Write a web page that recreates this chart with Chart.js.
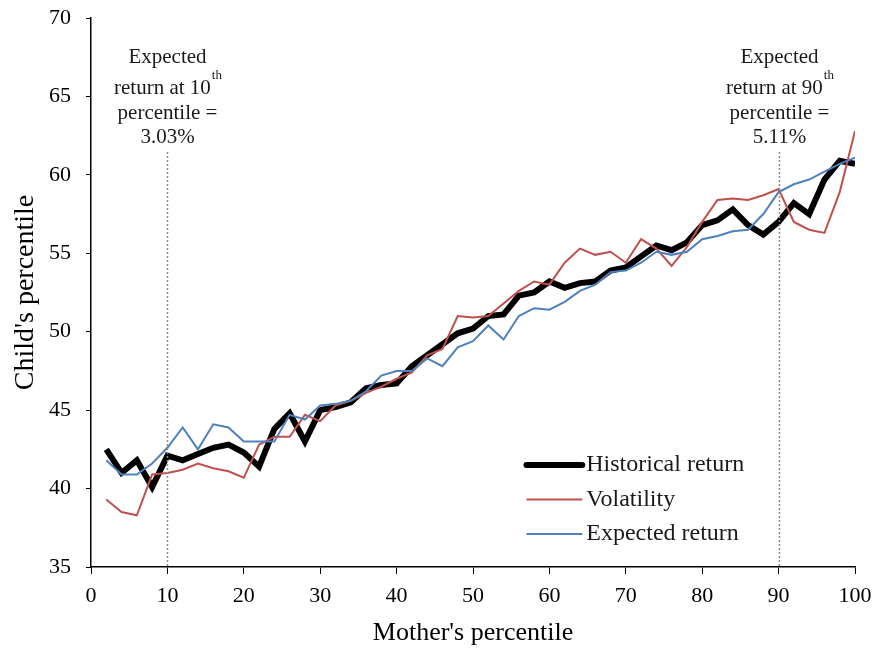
<!DOCTYPE html>
<html lang="en">
<head>
    <meta charset="UTF-8">
    <title>Child's percentile vs Mother's percentile</title>
    <style>
        * {
            margin: 0;
            padding: 0;
            box-sizing: border-box;
        }

        body {
            background: #ffffff;
            width: 876px;
            height: 649px;
            overflow: hidden;
        }

        .chart-box {
            position: relative;
            width: 876px;
            height: 649px;
        }
    </style>
</head>
<body>
    <div class="chart-box">
        <canvas id="pctChart" width="876" height="649"></canvas>
    </div>

    <script src="https://cdn.jsdelivr.net/npm/chart.js"></script>
    <script>
        // mother's percentile (x) and the three series (child's percentile)
        const motherPct = [2, 4, 6, 8, 10, 12, 14, 16, 18, 20, 22, 24, 26, 28, 30, 32, 34, 36, 38, 40,
            42, 44, 46, 48, 50, 52, 54, 56, 58, 60, 62, 64, 66, 68, 70, 72, 74, 76, 78, 80,
            82, 84, 86, 88, 90, 92, 94, 96, 98, 100];

        const historical = [42.5, 41.0, 41.8, 40.1, 42.1, 41.8, 42.2, 42.6, 42.8, 42.3,
            41.4, 43.8, 44.8, 43.0, 45.0, 45.2, 45.5, 46.4, 46.6, 46.7,
            47.8, 48.5, 49.2, 49.9, 50.2, 51.0, 51.1, 52.3, 52.5, 53.2,
            52.8, 53.1, 53.2, 53.9, 54.1, 54.8, 55.5, 55.2, 55.7, 56.8,
            57.1, 57.8, 56.8, 56.2, 57.0, 58.2, 57.5, 59.7, 60.9, 60.7];

        const volatility = [39.3, 38.5, 38.3, 40.9, 41.0, 41.2, 41.6, 41.3, 41.1, 40.7,
            42.8, 43.3, 43.3, 44.7, 44.3, 45.3, 45.6, 46.1, 46.5, 47.0,
            47.4, 48.5, 48.9, 51.0, 50.9, 51.0, 51.8, 52.6, 53.2, 53.0,
            54.4, 55.3, 54.9, 55.1, 54.4, 55.9, 55.3, 54.2, 55.4, 57.0,
            58.4, 58.5, 58.4, 58.7, 59.1, 57.0, 56.5, 56.3, 58.9, 62.8];

        const expectedRet = [41.8, 40.9, 40.9, 41.6, 42.6, 43.9, 42.5, 44.1, 43.9, 43.0,
            43.0, 43.0, 44.7, 44.4, 45.3, 45.4, 45.6, 46.2, 47.2, 47.5,
            47.5, 48.3, 47.8, 49.0, 49.4, 50.4, 49.5, 51.0, 51.5, 51.4,
            51.9, 52.6, 53.0, 53.8, 53.9, 54.4, 55.1, 54.9, 55.1, 55.9,
            56.1, 56.4, 56.5, 57.5, 58.9, 59.4, 59.7, 60.2, 60.7, 61.1];

        // reference lines and their notes
        const markerX = [10, 90];
        const markerNotes = [
            ['Expected', 'return at 10|th', 'percentile =', '3.03%'],
            ['Expected', 'return at 90|th', 'percentile =', '5.11%']
        ];

        const serif = "'Liberation Serif', 'Times New Roman', serif";

        function toPoints(ys) {
            return motherPct.map((x, i) => ({ x: x, y: ys[i] }));
        }

        // dotted vertical lines + text notes
        const markerPlugin = {
            id: 'markers',
            afterDatasetsDraw(chart) {
                const ctx = chart.ctx;
                const xs = chart.scales.x;
                const area = chart.chartArea;
                const lineOffsets = [39, 70, 95, 119];
                ctx.save();
                markerX.forEach((mx, k) => {
                    const px = Math.round(xs.getPixelForValue(mx)) + 0.5;
                    ctx.strokeStyle = '#8c8c8c';
                    ctx.lineWidth = 1.5;
                    ctx.setLineDash([2, 2]);
                    ctx.beginPath();
                    ctx.moveTo(px, area.top + 134);
                    ctx.lineTo(px, area.bottom);
                    ctx.stroke();
                    ctx.setLineDash([]);

                    ctx.fillStyle = '#1a1a1a';
                    ctx.textBaseline = 'middle';
                    markerNotes[k].forEach((line, j) => {
                        const y = area.top + lineOffsets[j];
                        const parts = line.split('|');
                        ctx.font = '21px ' + serif;
                        const w0 = ctx.measureText(parts[0]).width;
                        let w1 = 0;
                        if (parts[1]) {
                            ctx.font = '13px ' + serif;
                            w1 = ctx.measureText(parts[1]).width;
                        }
                        const left = px - (w0 + w1) / 2;
                        ctx.font = '21px ' + serif;
                        ctx.textAlign = 'left';
                        ctx.fillText(parts[0], left, y);
                        if (parts[1]) {
                            ctx.font = '13px ' + serif;
                            ctx.fillText(parts[1], left + w0 + 1, y - 12);
                        }
                    });
                });
                ctx.restore();
            }
        };

        // legend drawn inside the plot, lower right
        const legendPlugin = {
            id: 'innerLegend',
            afterDraw(chart) {
                const ctx = chart.ctx;
                const xs = chart.scales.x;
                const ys = chart.scales.y;
                const x0 = xs.getPixelForValue(57.0);
                const x1 = xs.getPixelForValue(64.3);
                ctx.save();
                ctx.font = '24px ' + serif;
                ctx.textAlign = 'left';
                ctx.textBaseline = 'middle';
                chart.data.datasets.forEach((ds, i) => {
                    const y = ys.getPixelForValue(41.5 - i * 2.2);
                    ctx.strokeStyle = ds.borderColor;
                    ctx.lineWidth = ds.borderWidth;
                    ctx.lineCap = i === 0 ? 'round' : 'butt';
                    ctx.beginPath();
                    ctx.moveTo(x0, y);
                    ctx.lineTo(x1, y);
                    ctx.stroke();
                    ctx.fillStyle = '#1a1a1a';
                    ctx.fillText(ds.label, x1 + 4, y);
                });
                ctx.restore();
            }
        };

        const ctx = document.getElementById('pctChart').getContext('2d');
        const pctChart = new Chart(ctx, {
            type: 'line',
            data: {
                datasets: [
                    {
                        label: 'Historical return',
                        data: toPoints(historical),
                        borderColor: '#000000',
                        borderWidth: 6,
                        pointRadius: 0,
                        tension: 0,
                        order: 3
                    },
                    {
                        label: 'Volatility',
                        data: toPoints(volatility),
                        borderColor: '#c0504d',
                        borderWidth: 2,
                        pointRadius: 0,
                        tension: 0,
                        order: 2
                    },
                    {
                        label: 'Expected return',
                        data: toPoints(expectedRet),
                        borderColor: '#4f81bd',
                        borderWidth: 2,
                        pointRadius: 0,
                        tension: 0,
                        order: 1
                    }
                ]
            },
            options: {
                responsive: false,
                animation: false,
                devicePixelRatio: 1,
                layout: {
                    padding: { top: 18, right: 21, left: 0, bottom: 0 }
                },
                plugins: {
                    legend: { display: false },
                    tooltip: { enabled: false }
                },
                scales: {
                    x: {
                        type: 'linear',
                        min: 0,
                        max: 100,
                        afterFit(scale) {
                            scale.height = 82;
                            scale.paddingLeft = 0;
                            scale.paddingRight = 0;
                        },
                        grid: {
                            drawOnChartArea: false,
                            drawTicks: true,
                            tickLength: 7,
                            tickColor: '#000000'
                        },
                        border: { color: '#000000', width: 1.5 },
                        ticks: {
                            stepSize: 10,
                            color: '#000000',
                            padding: 9,
                            maxRotation: 0,
                            font: { family: serif, size: 22 }
                        },
                        title: {
                            display: true,
                            text: "Mother's percentile",
                            color: '#000000',
                            padding: { top: 0, bottom: 0 },
                            font: { family: serif, size: 26 }
                        }
                    },
                    y: {
                        min: 35,
                        max: 70,
                        afterFit(scale) {
                            scale.width = 91;
                            scale.paddingTop = 0;
                            scale.paddingBottom = 0;
                        },
                        grid: {
                            drawOnChartArea: false,
                            drawTicks: true,
                            tickLength: 5,
                            tickColor: '#000000'
                        },
                        border: { color: '#000000', width: 1.5 },
                        ticks: {
                            stepSize: 5,
                            color: '#000000',
                            padding: 15,
                            font: { family: serif, size: 22 }
                        },
                        title: {
                            display: true,
                            text: "Child's percentile",
                            color: '#000000',
                            padding: { top: 9, bottom: 0 },
                            font: { family: serif, size: 28 }
                        }
                    }
                }
            },
            plugins: [markerPlugin, legendPlugin]
        });
    </script>
</body>
</html>
